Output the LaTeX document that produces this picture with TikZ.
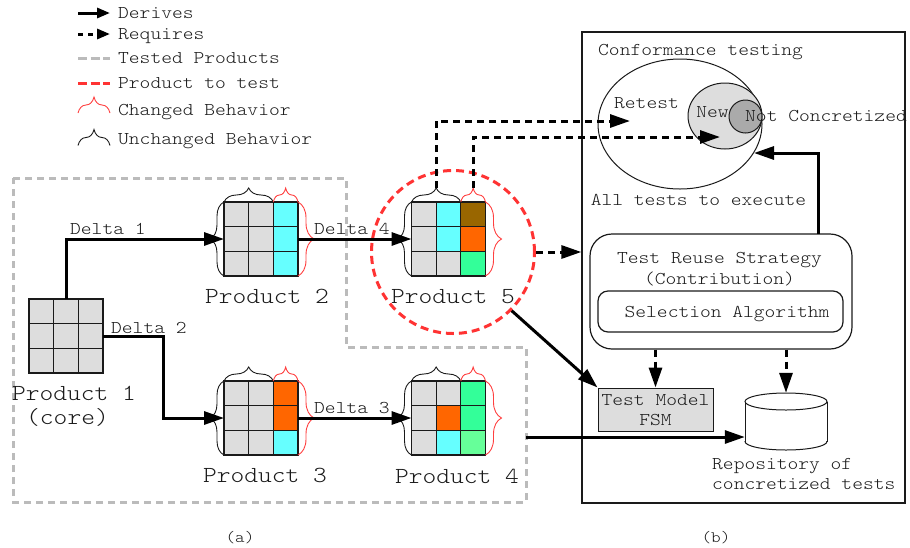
\documentclass[tikz,border=0pt]{standalone}
\usepackage{fontspec}
\newfontfamily\mono{lmmonolt10-regular}[Extension=.otf, FakeStretch=1.14]
\usetikzlibrary{arrows.meta,shapes.geometric,decorations.pathreplacing}

\definecolor{cellgray}{HTML}{DDDDDD}
\definecolor{cellcyan}{HTML}{66FFFF}
\definecolor{cellorange}{HTML}{FF6600}
\definecolor{cellbrown}{HTML}{996600}
\definecolor{cellgreen}{HTML}{33FF99}
\definecolor{celllime}{HTML}{66FF99}
\definecolor{testedgray}{HTML}{BBBBBB}
\definecolor{totest}{HTML}{FF3333}
\definecolor{chg}{HTML}{FF4040}
\definecolor{ncgray}{HTML}{AAAAAA}
\definecolor{ink}{HTML}{1A1A1A}

% one product: a 3x3 grid of feature cells, colours given row by row
\newcommand\prodgrid[3]{%
  \node[gridbox] (#1) at (#2) {};
  \begin{scope}[shift={(#1.north west)}]
    \foreach \cellc [count=\i from 0] in {#3} {
      \pgfmathtruncatemacro\gcol{mod(\i,3)}
      \pgfmathtruncatemacro\grow{div(\i,3)}
      \fill[fill=\cellc] (\gcol*24.667,\grow*24.667) rectangle ++(24.667,24.667);
    }
    \foreach \k in {1,2} {
      \draw[gridline] (\k*24.667,0) -- (\k*24.667,74);
      \draw[gridline] (0,\k*24.667) -- (74,\k*24.667);
    }
    \draw[gridline] (0,0) rectangle (74,74);
  \end{scope}
}
% braces marking unchanged (black) and changed (red) behaviour of a product
\newcommand\prodbraces[1]{%
  \draw[ubrace] (#1.south west) -- (#1.north west);
  \draw[ubrace] (#1.north west) -- ([xshift=49.33pt]#1.north west);
  \draw[cbrace] ([xshift=49.33pt]#1.north west) -- (#1.north east);
  \draw[cbrace=16pt] (#1.north east) -- (#1.south east);
}

\begin{document}
\begin{tikzpicture}[x=1pt,y=-1pt,
  txt/.style={font=\mono\fontsize{18}{20}\selectfont, inner sep=0pt, text height=11pt, text depth=0pt, text=ink},
  bigtxt/.style={font=\mono\fontsize{23}{24}\selectfont, inner sep=0pt, text height=14pt, text depth=0pt, text=ink},
  gridbox/.style={minimum size=74pt, inner sep=0pt, outer sep=0pt},
  gridline/.style={draw=ink, line width=1.2pt},
  derive/.style={draw=black, line width=3pt, -{Triangle[length=20pt,width=13pt]}},
  requires/.style={draw=black, line width=3pt, dash pattern=on 7pt off 5pt, -{Triangle[length=20pt,width=13pt]}},
  ubrace/.style={draw=ink, line width=0.9pt, decorate, decoration={brace, amplitude=#1}},
  ubrace/.default=14pt,
  cbrace/.style={draw=chg, line width=0.9pt, decorate, decoration={brace, amplitude=#1}},
  cbrace/.default=14pt,
  tested/.style={draw=testedgray, line width=3pt, dash pattern=on 7pt off 5pt},
  box/.style={draw=ink, line width=1.2pt, inner sep=0pt},
]
\useasboundingbox (0,0) rectangle (910,547);

% ---------- legend ----------
\node[txt, anchor=west] (lgd) at (118,13) {Derives};
\node[txt, anchor=west] (lgr) at (118,34) {Requires};
\node[txt, anchor=west] (lgt) at (118,58) {Tested Products};
\node[txt, anchor=west] (lgp) at (118,83) {Product to test};
\node[txt, anchor=west] (lgc) at (118,110) {Changed Behavior};
\node[txt, anchor=west] (lgu) at (118,139) {Unchanged Behavior};
\draw[line width=3pt, -{Triangle[length=13pt,width=10pt]}] ([xshift=-40pt]lgd.west) -- ([xshift=-8pt]lgd.west);
\draw[line width=3pt, dash pattern=on 5pt off 5pt, -{Triangle[length=13pt,width=10pt]}] ([xshift=-40pt]lgr.west) -- ([xshift=-8pt]lgr.west);
\draw[draw=testedgray, line width=3pt, dash pattern=on 9pt off 3.5pt] ([xshift=-40pt]lgt.west) -- ([xshift=-8pt]lgt.west);
\draw[draw=totest, line width=3pt, dash pattern=on 9pt off 3.5pt] ([xshift=-40pt]lgp.west) -- ([xshift=-8pt]lgp.west);
\draw[cbrace=16pt] ([xshift=-40pt,yshift=-3pt]lgc.west) -- ([xshift=-8pt,yshift=-3pt]lgc.west);
\draw[ubrace=16pt] ([xshift=-40pt,yshift=-6.5pt]lgu.west) -- ([xshift=-8pt,yshift=-6.5pt]lgu.west);

% ---------- (a) product line ----------
% region of already tested products
\draw[tested] (13,178) -- (346,178) -- (346,347) -- (526,347) -- (526,502) -- (13,502) -- cycle;
% product under test
\node[circle, draw=totest, line width=3pt, dash pattern=on 8pt off 5pt, minimum size=163pt, inner sep=0pt] (c5) at (453,252) {};

\prodgrid{p1}{66,336}{cellgray,cellgray,cellgray,cellgray,cellgray,cellgray,cellgray,cellgray,cellgray}
\prodgrid{p2}{261,239}{cellgray,cellgray,cellcyan,cellgray,cellgray,cellcyan,cellgray,cellgray,cellcyan}
\prodgrid{p5}{448.5,239}{cellgray,cellcyan,cellbrown,cellgray,cellcyan,cellorange,cellgray,cellgray,cellgreen}
\prodgrid{p3}{261,418}{cellgray,cellgray,cellorange,cellgray,cellgray,cellorange,cellgray,cellgray,cellcyan}
\prodgrid{p4}{448.5,418}{cellgray,cellgray,cellgreen,cellgray,cellorange,cellgreen,cellgray,cellcyan,celllime}
\prodbraces{p2}
\prodbraces{p5}
\prodbraces{p3}
\prodbraces{p4}

\node[bigtxt] (l1) at (74,393) {Product 1};
\node[bigtxt] (l1c) at (67.5,417) {(core)};
\node[bigtxt] (l2) at (267,296) {Product 2};
\node[bigtxt] (l5) at (453,296) {Product 5};
\node[bigtxt] (l3) at (265,475) {Product 3};
\node[bigtxt] (l4) at (457,476) {Product 4};

% deltas
\coordinate (k13) at (163,380);
\draw[derive] (p1.north) |- (p2.west);
\draw[derive] (p1.east) -| (k13) |- (p3.west);
\draw[derive] (p2.east) -- (p5.west);
\draw[derive] (p3.east) -- (p4.west);
\node[txt, anchor=west] (d1) at (70,229) {Delta 1};
\node[txt, anchor=west] (d2) at (111,328) {Delta 2};
\node[txt, anchor=west] (d4) at (314,229) {Delta 4};
\node[txt, anchor=west] (d3) at (314,408) {Delta 3};

% ---------- (b) testing side ----------
\node[box, minimum width=323pt, minimum height=471pt] (panel) at (743.5,267.5) {};
\node[txt, anchor=west] (conf) at (598,50) {Conformance testing};
\node[ellipse, draw=ink, line width=1pt, minimum width=164pt, minimum height=130pt, inner sep=0pt] (allt) at (680,124) {};
\node[ellipse, draw=ink, fill=cellgray, line width=1pt, minimum width=74pt, minimum height=66pt, inner sep=0pt] (new) at (725,116) {};
\node[circle, draw=ink, fill=ncgray, line width=1pt, minimum size=33pt, inner sep=0pt] (nc) at (745.5,116.5) {};
\node[txt] (ret) at (646.5,103) {Retest};
\node[txt] (newl) at (712.5,111.5) {New};
\node[txt, anchor=west] (ncl) at (745,116) {Not Concretized};
\node[txt] (allx) at (698.5,200) {All tests to execute};

\node[box, rounded corners=22pt, minimum width=262pt, minimum height=115pt] (reuse) at (721,291.5) {};
\node[txt] (reuse1) at (719.5,258) {Test Reuse Strategy};
\node[txt] (reuse2) at (719.5,279) {(Contribution)};
\node[box, rounded corners=10pt, minimum width=245pt, minimum height=41pt] (sel) at (720.5,311.5) {};
\node[txt] (selt) at (727,312) {Selection Algorithm};

\node[box, fill=cellgray, line width=1pt, minimum width=115pt, minimum height=43pt] (tm) at (655.5,409.5) {};
\node[txt] (tm1) at (655.5,399.5) {Test Model};
\node[txt] (tm2) at (655.5,420) {FSM};

% repository cylinder
\node[minimum width=82pt, minimum height=57pt, inner sep=0pt] (repo) at (786,421.5) {};
\draw[draw=ink, line width=1pt] (745,401.5) -- (745,441.5) (827,401.5) -- (827,441.5);
\draw[draw=ink, line width=1pt] (786,401.5) ellipse [x radius=41pt, y radius=8.5pt];
\begin{scope}
  \clip (740,441.5) rectangle (832,456);
  \draw[draw=ink, line width=1pt] (786,441.5) ellipse [x radius=41pt, y radius=8.5pt];
\end{scope}
\node[txt, anchor=west] (rp1) at (712,464) {Repository of};
\node[txt, anchor=west] (rp2) at (712,484) {concretized tests};

% connectors of the testing side
\coordinate (rtop) at (818,234);
\coordinate (ein) at (754,153);
\draw[derive] (rtop) |- (ein);
\draw[requires] (tm.north |- reuse.south) -- (tm.north);
\draw[requires] (repo.north |- reuse.south) -- (repo.north);

% connectors from the product under test
\coordinate (u5) at ([xshift=24.67pt,yshift=14pt]p5.north west);
\coordinate (ch5) at ([xshift=61.67pt,yshift=14pt]p5.north west);
\coordinate (rin) at (630,121);
\coordinate (nin) at (720,137);
\draw[requires] (u5) |- (rin);
\draw[requires] (ch5) |- (nin);
\draw[requires] (c5.east) -- (c5.east -| panel.west);
\draw[derive] (c5.-45) -- (tm.north west);
\coordinate (tbr) at (526,437);
\draw[derive] (tbr) -- (tbr -| repo.west);

% captions
\node[font=\mono\fontsize{16}{18}\selectfont, inner sep=0pt, text=ink] (capa) at (240,538) {(a)};
\node[font=\mono\fontsize{16}{18}\selectfont, inner sep=0pt, text=ink] (capb) at (716,538) {(b)};
\end{tikzpicture}
\end{document}
